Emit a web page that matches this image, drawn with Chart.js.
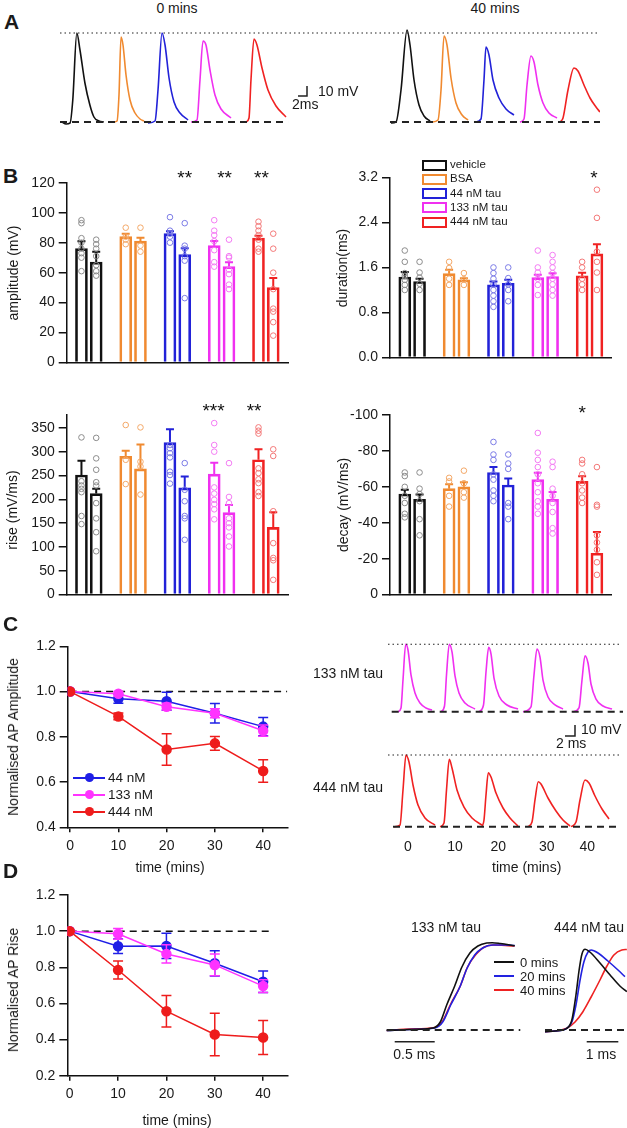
<!DOCTYPE html>
<html>
<head>
<meta charset="utf-8">
<script src="https://cdn.jsdelivr.net/npm/chart.js@4.4.1/dist/chart.umd.min.js"></script>
<style>
  html, body { margin: 0; padding: 0; background: #fff; }
  body { position: relative; width: 627px; height: 1128px; overflow: hidden;
         font-family: "Liberation Sans", Arial, sans-serif; color: #1a1a1a; }
  canvas { position: absolute; }
  .t { position: absolute; white-space: nowrap; font-size: 14px; line-height: 1; }
  .panel { position: absolute; font-weight: bold; font-size: 21px; line-height: 1; }
  .key { position: absolute; box-sizing: border-box; border: 2px solid; width: 25px; height: 11px; }
  .lkey { position: absolute; height: 2px; }
  .ldot { position: absolute; width: 9px; height: 9px; border-radius: 50%; }
</style>
</head>
<body>
<script>
// ---------- data ----------
const groupNames = ['vehicle', 'BSA', '44 nM tau', '133 nM tau', '444 nM tau'];
const groupColors = ['#111111', '#f08a30', '#2222d8', '#f030f0', '#f02222'];
const dotColors = ['#8c8c8c', '#f3a868', '#7b7be6', '#f37cf3', '#f37878'];

// bars: 0 mins then 40 mins for every group; slot = place on the x axis
const barSlot = [1, 2, 4, 5, 7, 8, 10, 11, 13, 14];
const barGroup = [0, 0, 1, 1, 2, 2, 3, 3, 4, 4];

const ampMean = [76, 67, 84, 81, 86, 72, 78, 64, 83, 50];
const ampSem = [5, 7, 2, 2.3, 1.6, 4.2, 3.1, 2.9, 1.6, 6.4];
const ampDots = [
  [95, 93, 83, 80, 76, 73, 70, 61],
  [82, 79, 76, 71, 65, 61, 58],
  [90, 84, 82, 79],
  [90, 78, 74],
  [97, 88, 86, 84, 80],
  [93, 78, 76, 71, 68, 43],
  [95, 88, 85, 81, 75, 67, 64],
  [82, 71, 70, 62, 59, 52, 49],
  [94, 91, 88, 85, 82, 76, 74],
  [86, 76, 60, 49, 36, 34, 27, 18]
];
const ampTicks = [0, 20, 40, 60, 80, 100, 120];
const ampStars = [['**', 8, 125], ['**', 10.7, 125], ['**', 13.2, 125]];

const durMean = [1.43, 1.35, 1.49, 1.38, 1.29, 1.32, 1.42, 1.44, 1.45, 1.84];
const durSem = [0.09, 0.05, 0.07, 0.03, 0.06, 0.06, 0.05, 0.055, 0.055, 0.17];
const durDots = [
  [1.9, 1.7, 1.5, 1.45, 1.38, 1.29, 1.2],
  [1.7, 1.51, 1.42, 1.31, 1.2],
  [1.7, 1.59, 1.4, 1.29],
  [1.5, 1.39, 1.29],
  [1.6, 1.5, 1.4, 1.3, 1.2, 1.1, 1.0, 0.9],
  [1.6, 1.41, 1.3, 1.2, 1.0],
  [1.9, 1.6, 1.51, 1.4, 1.29, 1.11],
  [1.82, 1.7, 1.6, 1.5, 1.4, 1.3, 1.2, 1.1],
  [1.7, 1.6, 1.4, 1.3, 1.2],
  [2.98, 2.48, 1.88, 1.7, 1.51, 1.2]
];
const durTicks = [0, 0.8, 1.6, 2.4, 3.2];
const durStars = [['*', 13.8, 3.24]];

const riseMean = [251, 212, 290, 264, 319, 224, 253, 172, 283, 141];
const riseSem = [30, 10, 12, 51, 28, 24, 24, 16, 22, 32];
const riseDots = [
  [330, 238, 229, 222, 215, 165, 148],
  [329, 286, 262, 236, 229, 192, 160, 131, 91],
  [356, 283, 232],
  [351, 279, 269, 210],
  [314, 307, 297, 288, 258, 251, 233],
  [276, 220, 196, 165, 160, 115],
  [360, 314, 300, 225, 212, 199, 190, 179, 158],
  [276, 205, 192, 160, 150, 141, 122, 101],
  [351, 344, 338, 265, 255, 242, 234, 215, 207],
  [305, 291, 175, 108, 77, 72, 31]
];
const riseTicks = [0, 50, 100, 150, 200, 250, 300, 350];
const riseStars = [['***', 9.95, 392], ['**', 12.7, 392]];

const decayMean = [-56, -53, -59, -60, -68, -61, -64, -53, -63, -23];
const decaySem = [2.4, 2.8, 2.5, 2.6, 3.1, 3.7, 3.9, 4.1, 2.9, 11.8];
const decayDots = [
  [-68, -66, -60, -55, -51, -45, -43],
  [-68, -59, -56, -52, -42, -33],
  [-65, -63, -55, -49],
  [-69, -62, -57, -54],
  [-85, -78, -75, -67, -64, -58, -55, -52],
  [-78, -73, -70, -51, -49, -42],
  [-90, -79, -75, -71, -67, -62, -57, -52, -49, -45],
  [-74, -71, -59, -55, -51, -46, -37, -34],
  [-75, -73, -67, -62, -58, -54, -51],
  [-71, -50, -49, -33, -29, -25, -18, -11]
];
const decayTicks = [0, -20, -40, -60, -80, -100];
const decayStars = [['*', 13, -103]];

// C and D: normalised values against time
const minutes = [0, 10, 20, 30, 40];
const seriesNames = ['44 nM', '133 nM', '444 nM'];
const seriesColors = ['#1f1fe6', '#ff33ff', '#ee1c1c'];
const ampNorm44 = [1.0, 0.968, 0.957, 0.904, 0.845];
const ampNorm44Err = [0, 0.02, 0.04, 0.043, 0.04];
const ampNorm133 = [1.0, 0.99, 0.933, 0.904, 0.827];
const ampNorm133Err = [0, 0.01, 0.015, 0.02, 0.025];
const ampNorm444 = [1.0, 0.89, 0.744, 0.771, 0.649];
const ampNorm444Err = [0, 0.015, 0.07, 0.03, 0.05];
const riseNorm44 = [1.0, 0.916, 0.918, 0.822, 0.72];
const riseNorm44Err = [0, 0.04, 0.07, 0.07, 0.06];
const riseNorm133 = [1.0, 0.985, 0.874, 0.813, 0.696];
const riseNorm133Err = [0, 0.03, 0.05, 0.06, 0.035];
const riseNorm444 = [1.0, 0.785, 0.557, 0.428, 0.411];
const riseNorm444Err = [0, 0.05, 0.087, 0.117, 0.094];
const ampNormTicks = [0.4, 0.6, 0.8, 1.0, 1.2];
const riseNormTicks = [0.2, 0.4, 0.6, 0.8, 1.0, 1.2];

// A: example sweeps, ms from each sweep start and mV above rest
const apOnset = [0.44, 12, 19.56, 29.11, 41.33, 73.56, 82.67, 92.44, 102.22, 111.11];
const apColor = [0, 1, 2, 3, 4, 0, 1, 2, 3, 4];
const apT = [
  [0, 0.9, 1.8, 2.4, 3.3, 4.0, 5.1, 6.2, 7.1, 8.2, 9.3],
  [0, 0.67, 1.11, 1.56, 2.0, 2.67, 3.56, 4.67, 5.78, 6.67],
  [0, 1.56, 2.22, 3.11, 3.78, 4.67, 5.78, 7.11, 8.89],
  [0, 1.33, 2, 2.67, 3.33, 4.22, 5.33, 6.67, 8.89],
  [0, 0.67, 1.11, 1.78, 2.44, 3.56, 4.89, 6.67, 8.89],
  [0, 1.11, 2.22, 3.56, 4.22, 5.11, 6.22, 7.33, 8.67],
  [0, 1.33, 2, 2.67, 3.33, 4.22, 5.33, 6.67, 8],
  [0, 1.11, 1.78, 2.22, 2.89, 3.78, 5.11, 6.67, 8.44],
  [0, 0.89, 1.56, 2.44, 3.11, 4, 5.11, 6.44, 8.22],
  [0, 0.67, 1.78, 3.11, 4, 5.33, 6.67, 8, 8.89]
];
const apV = [
  [0, -2, -1, 22, 89, 72, 39, 17, 5, 1, 0],
  [0, 1, 27, 85, 77, 47, 22, 9, 3, 1],
  [-1, 1, 32, 89, 77, 44, 20, 9, 2],
  [0, 2, 42, 81, 77, 52, 27, 13, 4],
  [0, 4, 42, 83, 77, 54, 32, 16, 5],
  [-1, 0, 32, 92, 77, 42, 17, 6, 1],
  [0, 2, 32, 86, 77, 44, 19, 7, 2],
  [0, 3, 42, 75, 67, 42, 24, 13, 7],
  [0, 3, 37, 66, 60, 37, 19, 9, 4],
  [0, 4, 32, 54, 51, 37, 24, 15, 10]
];

// C: sweeps at 0, 10, 20, 30, 40 mins
const tau133Onset = [2, 10.6, 18.2, 27, 37];
const tau133T = [
  [0, 0.6, 1, 1.54, 2, 2.6, 3.4, 4.4, 5.6, 6.8],
  [0, 0.7, 1.1, 1.66, 2.2, 2.8, 3.6, 4.8, 6.8],
  [0, 0.9, 1.4, 1.94, 2.4, 3, 4, 5.6, 7.8],
  [0, 1.6, 2.2, 2.8, 3.4, 4, 5, 6.4, 8],
  [0, 1.2, 1.8, 2.4, 3, 3.6, 4.6, 6, 7.8]
];
const tau133V = [
  [0, 3.4, 28.8, 61.3, 56.1, 33.4, 17, 7.9, 3.4, 1.5],
  [0, 5.2, 33.4, 61.3, 54.3, 32.5, 17, 7.9, 2.5],
  [0, 6.1, 36.1, 58.5, 52.5, 30.6, 14.3, 6.1, 2.5],
  [0, 4.3, 33.4, 57, 49.7, 28.8, 13.4, 6.1, 2.5],
  [0, 3.4, 28.8, 50.9, 44.3, 25.2, 11.5, 5.2, 2.5]
];
const tau444Onset = [1.2, 10.4, 18.8, 28, 36.6];
const tau444T = [
  [0, 1.2, 1.8, 2.4, 3, 3.8, 4.8, 6.2, 8.2],
  [0, 0.8, 1.3, 1.86, 2.4, 3.4, 4.8, 6.4, 8.4],
  [0, 0.4, 0.8, 1.26, 1.8, 2.8, 4.2, 5.6, 7.2],
  [0, 0.8, 1.4, 2.06, 2.6, 4, 5.6, 7, 8.4],
  [0, 1, 1.8, 2.8, 3.6, 4.8, 6.2, 7.6]
];
const tau444V = [
  [0, 1.5, 33.4, 65.2, 58.8, 37.9, 19.7, 7.9, 1.5],
  [0, 3.4, 33.4, 61.3, 53.4, 33.4, 17.9, 7.9, 1.5],
  [0, 6.1, 28.8, 49.1, 45.2, 30.6, 17, 7.9, 0.6],
  [0, 4.3, 24.3, 40.9, 38.8, 26.1, 14.3, 6.1, 0.6],
  [0, 4.3, 24.3, 42.5, 39.7, 27.9, 16.1, 7]
];
const sweepLabels = ['0', '10', '20', '30', '40'];

// D: rising phase at 0, 20, 40 mins
const riseSweepNames = ['0 mins', '20 mins', '40 mins'];
const riseSweepColors = ['#111111', '#2222e0', '#ee2222'];
const r133T = [
  [0, 0.29, 0.58, 0.67, 0.75, 0.85, 0.94, 1.04, 1.14, 1.25, 1.32, 1.42, 1.6],
  [0, 0.29, 0.6, 0.7, 0.8, 0.92, 1.0, 1.1, 1.2, 1.32, 1.48, 1.6],
  [0, 0.29, 0.6, 0.7, 0.8, 0.92, 1.01, 1.12, 1.22, 1.34, 1.48, 1.6]
];
const r133V = [
  [-0.5, 0.5, 2, 8, 25, 44, 63, 77, 84, 87, 87.3, 86.5, 84.3],
  [-0.5, 0.5, 2, 8, 25, 44, 61, 75, 82, 85, 85, 84.5],
  [-0.5, 1, 2.5, 9, 26, 44, 63, 76, 83, 85, 84.5, 84]
];
const r444T = [
  [0, 0.32, 0.69, 0.85, 0.98, 1.08, 1.17, 1.27, 1.42, 1.74, 2.06, 2.37, 2.59],
  [0, 0.32, 0.69, 0.85, 0.98, 1.11, 1.23, 1.36, 1.46, 1.68, 1.99, 2.31, 2.53],
  [0, 0.32, 0.69, 0.95, 1.2, 1.46, 1.74, 1.96, 2.18, 2.43, 2.59]
];
const r444V = [
  [-1.7, -1, 1.7, 10, 35, 60, 76, 80.7, 78, 67, 55, 44, 38.3],
  [-1.7, -1, 1.7, 8, 25, 50, 68, 78, 80, 77, 69, 60, 53.3],
  [-1.7, -1, 1.7, 8, 18.3, 33, 50, 64, 75, 80, 80.5]
];

// ---------- helpers ----------
Chart.defaults.font.family = '"Liberation Sans", Arial, sans-serif';
Chart.defaults.font.size = 14;
Chart.defaults.color = '#1a1a1a';
Chart.defaults.animation = false;

function addCanvas(rect) {
  const c = document.createElement('canvas');
  c.width = rect[2];
  c.height = rect[3];
  c.style.left = rect[0] + 'px';
  c.style.top = rect[1] + 'px';
  document.body.appendChild(c);
  return c;
}

// rect = [left, top, width, height] of the canvas, area = [l, t, r, b] of the plot area, page pixels
function pads(rect, area, yw, xh) {
  return {
    left: area[0] - rect[0] - yw,
    top: area[1] - rect[1],
    right: rect[0] + rect[2] - area[2],
    bottom: rect[1] + rect[3] - area[3] - xh
  };
}

function text(str, x, y, align, opts) {
  opts = opts || {};
  const d = document.createElement('div');
  d.className = opts.cls || 't';
  d.textContent = str;
  d.style.left = x + 'px';
  d.style.top = y + 'px';
  const tx = align === 'c' ? '-50%' : align === 'r' ? '-100%' : '0';
  d.style.transform = 'translate(' + tx + ', -50%)' + (opts.rot ? ' rotate(-90deg)' : '');
  if (opts.size) d.style.fontSize = opts.size + 'px';
  document.body.appendChild(d);
}

const errorBars = {
  id: 'errorBars',
  afterDatasetDraw(chart, args) {
    const ds = chart.data.datasets[args.index];
    if (!ds.errs) return;
    const ctx = chart.ctx, ys = chart.scales.y;
    ctx.save();
    ctx.lineWidth = ds.errWidth || 1.5;
    args.meta.data.forEach((el, i) => {
      const e = ds.errs[i];
      if (!e) return;
      const v = ds.data[i].y;
      const lo = ds.upOnly ? v : v - e;
      const hi = ds.upOnly ? v + Math.sign(v) * e : v + e;
      const y1 = ys.getPixelForValue(lo), y2 = ys.getPixelForValue(hi);
      ctx.strokeStyle = Array.isArray(ds.borderColor) ? ds.borderColor[i] : ds.borderColor;
      ctx.beginPath();
      ctx.moveTo(el.x, y1); ctx.lineTo(el.x, y2);
      ctx.moveTo(el.x - ds.capHalf, y2); ctx.lineTo(el.x + ds.capHalf, y2);
      if (!ds.upOnly) { ctx.moveTo(el.x - ds.capHalf, y1); ctx.lineTo(el.x + ds.capHalf, y1); }
      ctx.stroke();
    });
    ctx.restore();
  }
};

function axisY(min, max, ticks, fmt, yw, reverse) {
  return {
    type: 'linear', min: min, max: max, reverse: !!reverse,
    afterBuildTicks: s => { s.ticks = ticks.map(v => ({ value: v })); },
    afterFit: s => { s.width = yw; },
    ticks: { callback: v => fmt(v), padding: 4, color: '#1a1a1a', font: { size: 14 } },
    grid: { drawOnChartArea: false, tickLength: 8, color: '#111', lineWidth: 1.5 },
    border: { color: '#111', width: 1.5 }
  };
}

function barChart(rect, area, yMin, yMax, ticks, fmt, mean, sem, dots, stars, reverse) {
  const yw = area[0] - rect[0];
  const dotData = [], dotCols = [];
  dots.forEach((list, i) => list.forEach(v => {
    dotData.push({ x: barSlot[i], y: v });
    dotCols.push(dotColors[barGroup[i]]);
  }));
  const starMarks = {
    id: 'starMarks',
    afterDraw(chart) {
      const ctx = chart.ctx;
      ctx.save();
      ctx.font = '19px "Liberation Sans", Arial, sans-serif';
      ctx.fillStyle = '#111';
      ctx.textAlign = 'center';
      ctx.textBaseline = 'middle';
      stars.forEach(s => ctx.fillText(s[0], chart.scales.x.getPixelForValue(s[1]),
        chart.scales.y.getPixelForValue(s[2]) + 4));
      ctx.restore();
    }
  };
  return new Chart(addCanvas(rect), {
    type: 'bar',
    data: {
      datasets: [
        {
          type: 'bar',
          data: barSlot.map((s, i) => ({ x: s, y: mean[i] })),
          borderColor: barGroup.map(g => groupColors[g]),
          backgroundColor: 'rgba(255,255,255,0)',
          borderWidth: 2, barThickness: 12,
          errs: sem, upOnly: true, capHalf: 4, errWidth: 2, order: 2
        },
        {
          type: 'scatter', data: dotData,
          pointRadius: 2.8, pointBorderWidth: 1,
          pointBorderColor: dotCols, pointBackgroundColor: 'rgba(0,0,0,0)', order: 1
        }
      ]
    },
    options: {
      responsive: false,
      layout: { padding: pads(rect, area, yw, 0) },
      scales: {
        x: {
          type: 'linear', min: 0, max: 15, offset: false,
          ticks: { display: false }, grid: { display: false },
          border: { color: '#111', width: 1.5 },
          afterFit: s => { s.height = 0; }
        },
        y: axisY(yMin, yMax, ticks, fmt, yw, reverse)
      },
      plugins: { legend: { display: false }, tooltip: { enabled: false } }
    },
    plugins: [errorBars, starMarks]
  });
}

function normChart(rect, area, yMin, yMax, ticks, series, errs, dashEnd) {
  const yw = area[0] - rect[0], xh = 28;
  const sets = series.map((vals, k) => ({
    type: 'line',
    data: minutes.map((m, i) => ({ x: m, y: vals[i] })),
    borderColor: seriesColors[k], backgroundColor: seriesColors[k],
    borderWidth: 1.5, pointRadius: 4.5, pointHoverRadius: 4.5,
    errs: errs[k], capHalf: 5, errWidth: 1.5, order: 3 - k
  }));
  sets.push({
    type: 'line', data: [{ x: 0, y: 1 }, { x: dashEnd, y: 1 }],
    borderColor: '#111', borderWidth: 1.5, borderDash: [7, 5], pointRadius: 0, order: 9
  });
  return new Chart(addCanvas(rect), {
    type: 'line',
    data: { datasets: sets },
    options: {
      responsive: false,
      layout: { padding: pads(rect, area, yw, xh) },
      scales: {
        x: {
          type: 'linear', min: -0.5, max: 45,
          afterBuildTicks: s => { s.ticks = minutes.map(v => ({ value: v })); },
          afterFit: s => { s.height = xh; },
          ticks: { padding: 5, color: '#1a1a1a', font: { size: 14 } },
          grid: { drawOnChartArea: false, tickLength: 5, color: '#111', lineWidth: 1.5 },
          border: { color: '#111', width: 1.5 }
        },
        y: axisY(yMin, yMax, ticks, v => v.toFixed(1), yw)
      },
      plugins: { legend: { display: false }, tooltip: { enabled: false } }
    },
    plugins: [errorBars]
  });
}

function sweep(on, t, v, color) {
  return {
    data: t.map((tt, i) => ({ x: on + tt, y: v[i] })),
    borderColor: color, borderWidth: 1.6,
    cubicInterpolationMode: 'monotone', pointRadius: 0
  };
}
function guide(pts, dash, w) {
  return { data: pts.map(p => ({ x: p[0], y: p[1] })), borderColor: '#222', borderWidth: w, borderDash: dash, pointRadius: 0 };
}

function traceChart(rect, area, xr, yr, sets) {
  return new Chart(addCanvas(rect), {
    type: 'line',
    data: { datasets: sets },
    options: {
      responsive: false,
      layout: { padding: pads(rect, area, 0, 0) },
      scales: {
        x: { type: 'linear', display: false, min: xr[0], max: xr[1] },
        y: { type: 'linear', display: false, min: yr[0], max: yr[1] }
      },
      plugins: { legend: { display: false }, tooltip: { enabled: false } }
    }
  });
}

// ---------- panel A ----------
text('A', 4, 21, 'l', { cls: 'panel' });
text('0 mins', 177, 8, 'c');
text('40 mins', 495, 8, 'c');
const aSets = [
  guide([[0, 89], [120, 89]], [1.5, 3], 1.2),
  guide([[0, 0], [50.67, 0]], [7, 5], 2),
  guide([[73.33, 0], [120, 0]], [7, 5], 2),
  guide([[52.89, 26], [54.89, 26], [54.89, 36]], [], 1.5)
];
apT.forEach((t, i) => aSets.push(sweep(apOnset[i], t, apV[i], groupColors[apColor[i]])));
traceChart([0, 15, 627, 120], [60, 22, 600, 130], [0, 120], [-8, 100], aSets);
text('10 mV', 318, 91, 'l');
text('2ms', 292, 104, 'l');

// ---------- panel B ----------
text('B', 3, 175, 'l', { cls: 'panel' });
barChart([0, 165, 305, 210], [66.7, 182.7, 288, 363.7], 0, 120, ampTicks, v => String(v),
  ampMean, ampSem, ampDots, ampStars);
barChart([310, 160, 317, 210], [390, 177.3, 611.7, 357.7], 0, 3.2, durTicks, v => v.toFixed(1),
  durMean, durSem, durDots, durStars);
barChart([0, 395, 305, 212], [66.7, 415, 288, 596], 0, 377, riseTicks, v => String(v),
  riseMean, riseSem, riseDots, riseStars);
barChart([310, 395, 317, 212], [390, 415, 611.7, 596], -100, 0, decayTicks, v => String(v),
  decayMean, decaySem, decayDots, decayStars, true);
text('amplitude (mV)', 13, 273, 'c', { rot: true });
text('duration(ms)', 342, 268, 'c', { rot: true });
text('rise (mV/ms)', 12, 510, 'c', { rot: true });
text('decay (mV/ms)', 343, 505, 'c', { rot: true });

// legend of B
groupNames.forEach((name, i) => {
  const y = 165 + i * 14.25;
  const k = document.createElement('div');
  k.className = 'key';
  k.style.left = '421.7px';
  k.style.top = (y - 5.5) + 'px';
  k.style.borderColor = groupColors[i];
  document.body.appendChild(k);
  text(name, 450, y, 'l', { size: 11.5 });
});

// ---------- panel C ----------
text('C', 3, 623, 'l', { cls: 'panel' });
normChart([0, 630, 300, 232], [67.7, 646.3, 287.3, 827.3], 0.4, 1.2, ampNormTicks,
  [ampNorm44, ampNorm133, ampNorm444], [ampNorm44Err, ampNorm133Err, ampNorm444Err], 45);
text('Normalised AP Amplitude', 13, 737, 'c', { rot: true });
text('time (mins)', 170, 866.7, 'c');
seriesNames.forEach((name, k) => {
  const y = 777.7 + k * 17;
  const l = document.createElement('div');
  l.className = 'lkey';
  l.style.left = '73px'; l.style.width = '32px'; l.style.top = (y - 1) + 'px';
  l.style.background = seriesColors[k];
  document.body.appendChild(l);
  const d = document.createElement('div');
  d.className = 'ldot';
  d.style.left = '84.5px'; d.style.top = (y - 4.5) + 'px';
  d.style.background = seriesColors[k];
  document.body.appendChild(d);
  text(name, 108, y, 'l', { size: 13.5 });
});

const c133 = [
  guide([[0, 61.3], [46.4, 61.3]], [1.5, 3], 1.2),
  guide([[0.74, 0], [47, 0]], [7, 5], 2),
  guide([[35.4, -22.1], [37.4, -22.1], [37.4, -12.1]], [], 1.5)
];
tau133T.forEach((t, i) => c133.push(sweep(tau133Onset[i], t, tau133V[i], groupColors[3])));
traceChart([380, 635, 247, 110], [388, 640, 623, 740], [0, 47], [-25.73, 65.18], c133);

const c444 = [
  guide([[0, 65.2], [46.4, 65.2]], [1.5, 3], 1.2),
  guide([[1, 0], [46.4, 0]], [7, 5], 2)
];
tau444T.forEach((t, i) => c444.push(sweep(tau444Onset[i], t, tau444V[i], groupColors[4])));
traceChart([380, 745, 247, 92], [388, 750, 623, 832], [0, 47], [-4.82, 69.73], c444);

text('133 nM tau', 313, 673, 'l');
text('444 nM tau', 313, 787, 'l');
text('10 mV', 581, 729, 'l');
text('2 ms', 556, 743, 'l');
const sweepX = [408, 455, 498.3, 546.7, 587.3];
sweepLabels.forEach((s, i) => text(s, sweepX[i], 846, 'c'));
text('time (mins)', 526.7, 866.7, 'c');

// ---------- panel D ----------
text('D', 3, 870, 'l', { cls: 'panel' });
normChart([0, 880, 300, 248], [67.3, 895, 287.3, 1075.7], 0.2, 1.2, riseNormTicks,
  [riseNorm44, riseNorm133, riseNorm444], [riseNorm44Err, riseNorm133Err, riseNorm444Err], 41.4);
text('Normalised AP Rise', 13, 990, 'c', { rot: true });
text('time (mins)', 177, 1120, 'c');

const d133 = [
  guide([[0, 0], [1.67, 0]], [7, 5], 2),
  guide([[0.1, -11.7], [0.6, -11.7]], [], 1.5)
];
r133T.forEach((t, i) => d133.push(sweep(0, t, r133V[i], riseSweepColors[i])));
traceChart([375, 930, 155, 121], [380, 935, 525, 1046], [-0.084, 1.729], [-16, 95], d133);

const d444 = [
  guide([[0, 0], [2.6, 0]], [7, 5], 2),
  guide([[1.32, -11.7], [2.32, -11.7]], [], 1.5)
];
r444T.forEach((t, i) => d444.push(sweep(0, t, r444V[i], riseSweepColors[i])));
traceChart([535, 930, 92, 121], [540, 935, 627, 1046], [-0.158, 2.595], [-16, 95], d444);

text('133 nM tau', 446, 926.7, 'c');
text('444 nM tau', 589, 926.7, 'c');
text('0.5 ms', 414.3, 1054, 'c');
text('1 ms', 601, 1054, 'c');
riseSweepNames.forEach((name, i) => {
  const y = 962.3 + i * 13.9;
  const l = document.createElement('div');
  l.className = 'lkey';
  l.style.left = '494px'; l.style.width = '20px'; l.style.top = (y - 1) + 'px';
  l.style.background = riseSweepColors[i];
  document.body.appendChild(l);
  text(name, 520, y, 'l', { size: 13 });
});
</script>
</body>
</html>
